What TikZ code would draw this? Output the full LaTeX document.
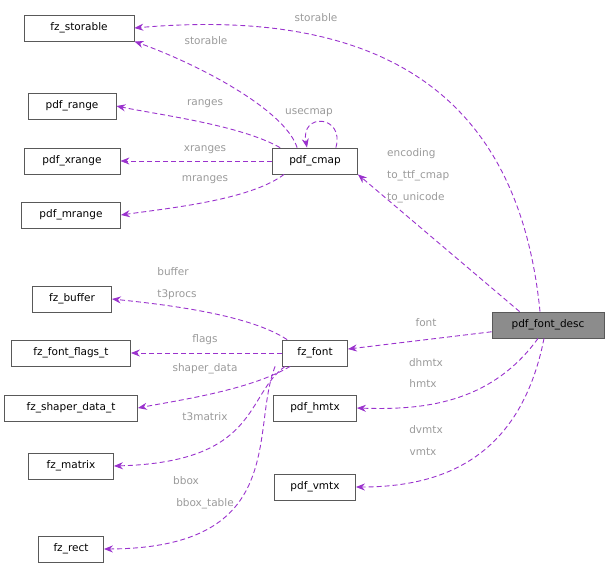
\documentclass[tikz,border=0pt]{standalone}
\usepackage{fontspec}
\setmainfont{DejaVu Sans}
\usetikzlibrary{arrows.meta}
\definecolor{edgecol}{HTML}{9A32CD}
\definecolor{labcol}{HTML}{9A9A9A}
\begin{document}
\begin{tikzpicture}[x=1pt,y=-1pt,font=\fontsize{10.5}{12}\selectfont,
    box/.style={draw=black!65,fill=white,minimum height=26pt,inner xsep=3pt,line width=0.8pt},
    rel/.style={draw=edgecol,line width=0.9pt,dash pattern=on 5pt off 3pt,
      -{Stealth[length=9pt,width=7pt,fill=edgecol]}},
    lab/.style={labcol,inner sep=1pt}]
    \useasboundingbox (0,0) rectangle (611,563);

    % classes
    \node[box,minimum width=110pt] (storable) at (79,28) {fz\_storable};
    \node[box,minimum width=88pt] (range) at (72,106) {pdf\_range};
    \node[box,minimum width=96pt] (xrange) at (72,161) {pdf\_xrange};
    \node[box,minimum width=99pt] (mrange) at (71,215) {pdf\_mrange};
    \node[box,minimum width=85pt] (cmap) at (315,161) {pdf\_cmap};
    \node[box,minimum width=79pt] (buffer) at (72,299) {fz\_buffer};
    \node[box,minimum width=119pt] (flags) at (71,353) {fz\_font\_flags\_t};
    \node[box,minimum width=133pt] (shaper) at (71,408) {fz\_shaper\_data\_t};
    \node[box,minimum width=85pt] (matrix) at (71,466) {fz\_matrix};
    \node[box,minimum width=65pt] (rect) at (71,549) {fz\_rect};
    \node[box,minimum width=65pt] (font) at (315,353) {fz\_font};
    \node[box,minimum width=112pt,fill=black!45] (desc) at (548,325) {pdf\_font\_desc};
    \node[box,minimum width=83pt] (hmtx) at (315,408) {pdf\_hmtx};
    \node[box,minimum width=81pt] (vmtx) at (315,487) {pdf\_vmtx};

    % pdf_cmap members
    \draw[rel] (cmap.north west) ++(25,0) .. controls (285,110) and (200,65) .. (storable.south east);
    \draw[rel] (cmap.north west) ++(8,0) .. controls (240,125) and (160,115) .. (range.east);
    \draw[rel] (cmap) -- (xrange);
    \draw[rel] (cmap.south west) ++(12,0) .. controls (250,200) and (170,208) .. (mrange.east);
    \coordinate (loopstart) at ([xshift=-22pt]cmap.north east);
    \draw[rel] (loopstart) .. controls (345,115) and (300,112) .. ([xshift=-8pt]cmap.north);

    % fz_font members
    \draw[rel] (font.north west) ++(5,0) .. controls (250,315) and (170,305) .. (buffer.east);
    \draw[rel] (font) -- (flags);
    \draw[rel] (font.south west) ++(8,0) .. controls (250,390) and (180,400) .. (shaper.east);
    \draw[rel] (font.south west) ++(3,0) .. controls (245,395) and (260,462) .. (matrix.east);
    \draw[rel] (font.south west) ++(-7,0) .. controls (250,430) and (290,548) .. (rect.east);

    % pdf_font_desc members
    \draw[rel] (desc.north) ++(-8,0) .. controls (520,110) and (400,5) .. (storable.east);
    \draw[rel] (desc.north west) ++(28,0) -- (cmap.south east);
    \draw[rel] (desc) -- (font);
    \draw[rel] (desc.south) ++(-10,0) .. controls (490,405) and (420,410) .. (hmtx.east);
    \draw[rel] (desc.south) ++(-4,0) .. controls (520,460) and (440,487) .. (vmtx.east);

    % labels
    \node[lab] at (316,18) {storable};
    \node[lab] at (206,41) {storable};
    \node[lab] at (205,104) {ranges};
    \node[lab] at (309,113) {usecmap};
    \node[lab] at (205,150) {xranges};
    \node[lab] at (205,180) {mranges};
    \node[lab,anchor=west] at (386,154) {encoding};
    \node[lab,anchor=west] at (386,176) {to\_ttf\_cmap};
    \node[lab,anchor=west] at (386,198) {to\_unicode};
    \node[lab] at (173,272) {buffer};
    \node[lab] at (177,295) {t3procs};
    \node[lab] at (205,340) {flags};
    \node[lab] at (205,369) {shaper\_data};
    \node[lab] at (205,417) {t3matrix};
    \node[lab] at (186,481) {bbox};
    \node[lab] at (205,504) {bbox\_table};
    \node[lab] at (426,323) {font};
    \node[lab] at (426,363) {dhmtx};
    \node[lab] at (423,384) {hmtx};
    \node[lab] at (426,430) {dvmtx};
    \node[lab] at (423,452) {vmtx};
\end{tikzpicture}
\end{document}
